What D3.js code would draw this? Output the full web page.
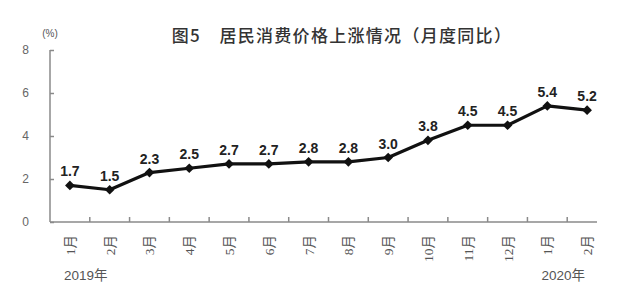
<!DOCTYPE html>
<html>
<head>
<meta charset="utf-8">
<script src="https://cdn.jsdelivr.net/npm/d3@7"></script>
<style>
  html, body { margin: 0; padding: 0; background: #fff; }
  svg { display: block; }
</style>
</head>
<body>
<svg id="chart" width="629" height="299"></svg>
<script>
// Monthly CPI year-on-year change, Jan 2019 – Feb 2020
const months = ["1月", "2月", "3月", "4月", "5月", "6月", "7月", "8月", "9月", "10月", "11月", "12月", "1月", "2月"];
const cpiYoY = [1.7, 1.5, 2.3, 2.5, 2.7, 2.7, 2.8, 2.8, 3.0, 3.8, 4.5, 4.5, 5.4, 5.2];
const yTicks = [0, 2, 4, 6, 8];
const yearLabels = ["2019年", "2020年"];
const titleText = "图5　居民消费价格上涨情况（月度同比）";
const unitText = "(%)";

const svg = d3.select("#chart");
const keys = months.map((m, i) => i);

const x = d3.scaleBand().domain(keys).range([50, 607]).paddingInner(0).paddingOuter(0);
const y = d3.scaleLinear().domain([0, 8]).range([222, 50]);

const axisColor = "#8a8a8a";
const textGray = "#555";

// title and unit
svg.append("text")
  .attr("x", 342).attr("y", 42)
  .attr("text-anchor", "middle")
  .attr("font-family", "'Noto Sans CJK SC', sans-serif")
  .attr("font-size", 17)
  .attr("font-weight", 500)
  .attr("letter-spacing", 1.3)
  .attr("fill", "#333")
  .text(titleText);

svg.append("text")
  .attr("x", 50).attr("y", 37)
  .attr("text-anchor", "middle")
  .attr("font-family", "'Liberation Sans', sans-serif")
  .attr("font-size", 10)
  .attr("fill", textGray)
  .text(unitText);

// y axis
const yAxis = d3.axisLeft(y).tickValues(yTicks).tickSize(-4).tickPadding(21).tickFormat(d3.format("d"));
const gy = svg.append("g").attr("transform", "translate(50,0)").call(yAxis);
gy.select(".domain").attr("stroke", axisColor).attr("stroke-width", 1.5).attr("d", "M0,50V222");
gy.selectAll(".tick line").attr("stroke", axisColor).attr("stroke-width", 1.5);
gy.selectAll(".tick text")
  .attr("fill", "#666")
  .attr("font-family", "'Liberation Sans', sans-serif")
  .attr("font-size", 12);

// x axis: ticks sit on the band boundaries, pointing up
const boundaries = keys.slice(1).map(k => x(k));
const gx = svg.append("g");
gx.append("line")
  .attr("x1", 50).attr("x2", 597)
  .attr("y1", y(0)).attr("y2", y(0))
  .attr("stroke", axisColor).attr("stroke-width", 1.5);
gx.selectAll("line.tk").data(boundaries).join("line")
  .attr("class", "tk")
  .attr("x1", d => d).attr("x2", d => d)
  .attr("y1", y(0)).attr("y2", y(0) - 5)
  .attr("stroke", axisColor).attr("stroke-width", 1.5);

// rotated month labels
gx.selectAll("text.mlab").data(keys).join("text")
  .attr("class", "mlab")
  .attr("transform", d => `translate(${x(d) + x.bandwidth() / 2 + 5},235) rotate(-90)`)
  .attr("text-anchor", "end")
  .attr("font-family", "'Liberation Serif', 'Noto Sans CJK SC', serif")
  .attr("font-size", 13.5)
  .attr("fill", textGray)
  .text(d => months[d]);

// year labels under the first month of each year
svg.selectAll("text.ylab").data([0, 12]).join("text")
  .attr("class", "ylab")
  .attr("x", d => x(d) + 14)
  .attr("y", 280)
  .attr("font-family", "'Liberation Sans', 'Noto Sans CJK SC', sans-serif")
  .attr("font-size", 13.5)
  .attr("fill", textGray)
  .text((d, i) => yearLabels[i]);

// line
const cx = i => x(i) + x.bandwidth() / 2;
const line = d3.line().x((d, i) => cx(i)).y(d => y(d));
svg.append("path")
  .datum(cpiYoY)
  .attr("d", line)
  .attr("fill", "none")
  .attr("stroke", "#111")
  .attr("stroke-width", 3.2)
  .attr("stroke-linejoin", "round");

// diamond markers
const diamond = d3.symbol().type(d3.symbolDiamond2).size(60);
svg.selectAll("path.pt").data(cpiYoY).join("path")
  .attr("class", "pt")
  .attr("transform", (d, i) => `translate(${cx(i)},${y(d)})`)
  .attr("d", diamond)
  .attr("fill", "#111");

// value labels
svg.selectAll("text.val").data(cpiYoY).join("text")
  .attr("class", "val")
  .attr("x", (d, i) => cx(i))
  .attr("y", d => y(d) - 9)
  .attr("text-anchor", "middle")
  .attr("font-family", "'Liberation Sans', sans-serif")
  .attr("font-size", 14)
  .attr("font-weight", "bold")
  .attr("fill", "#222")
  .text(d => d.toFixed(1));
</script>
</body>
</html>
